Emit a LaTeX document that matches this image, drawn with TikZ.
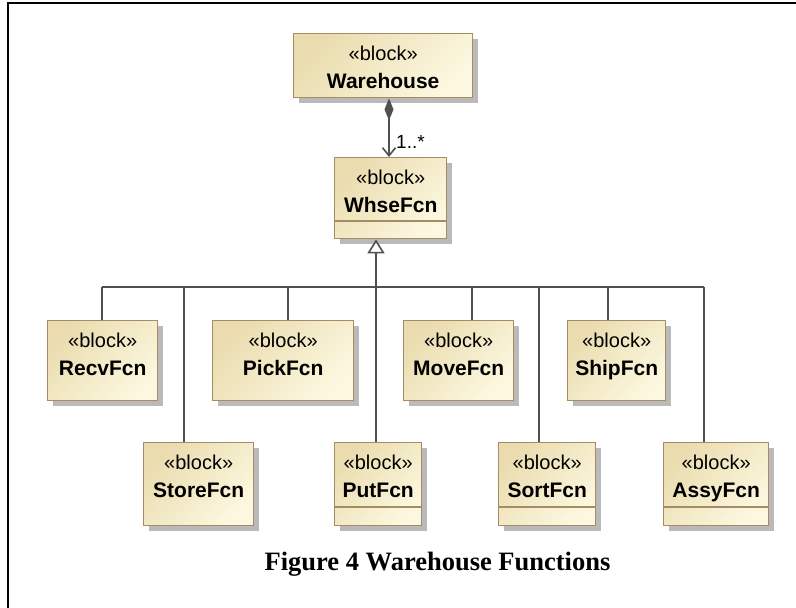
\documentclass[tikz,border=0pt]{standalone}
\usepackage{fontspec}
\setmainfont{Liberation Sans}
\newfontfamily\capfont{Liberation Serif}
\usetikzlibrary{arrows.meta,shadows,calc}
\definecolor{boxtop}{RGB}{234,220,175}
\definecolor{boxbot}{RGB}{252,248,224}
\definecolor{boxline}{RGB}{165,140,100}
\definecolor{connc}{RGB}{80,80,80}
\tikzset{
  blockbox/.style={rectangle, draw=boxline, line width=1.4pt, top color=boxtop, bottom color=boxbot, shading angle=45,
    drop shadow={shadow xshift=5pt, shadow yshift=-5pt, fill=black!27, opacity=1}, inner sep=0pt},
  stereo/.style={anchor=base, inner sep=0pt, font=\fontsize{20}{22}\selectfont},
  bname/.style={anchor=base, inner sep=0pt, font=\fontsize{21}{24}\selectfont\bfseries},
  conn/.style={draw=connc, line width=1.6pt},
  compart/.style={draw=boxline, line width=1.4pt}
}
\newcommand{\mkblock}[6]{%
  \node[blockbox, minimum width={#4-#2}, minimum height={#5-#3}, anchor=north west] (#1) at (#2,-#3) {};
  \node[stereo] (#1-st) at ($(#1.north)+(0,-27)$) {«block»};
  \node[bname] (#1-nm) at ($(#1.north)+(0,-55)$) {#6};
}
\begin{document}
\begin{tikzpicture}[x=1pt,y=1pt]
\useasboundingbox (0,0) rectangle (796,-608);
\fill[white] (0,0) rectangle (796,-608);
% frame
\draw[line width=2pt] (796,-3) -- (8,-3) -- (8,-608);

% blocks
\mkblock{wh}{293}{33}{472}{97}{Warehouse}
\mkblock{wf}{334}{157}{446}{238}{WhseFcn}
\mkblock{recv}{47}{320}{157}{400}{RecvFcn}
\mkblock{pick}{212}{320}{353}{400}{PickFcn}
\mkblock{move}{403}{320}{513}{400}{MoveFcn}
\mkblock{ship}{567}{320}{665}{400}{ShipFcn}
\mkblock{store}{143}{442}{253}{525}{StoreFcn}
\mkblock{put}{334}{442}{421}{525}{PutFcn}
\mkblock{sort}{498}{442}{595}{525}{SortFcn}
\mkblock{assy}{663}{442}{768}{525}{AssyFcn}

% compartments
\draw[compart] ($(wf.north west)+(0,-64)$) -- ($(wf.north east)+(0,-64)$);
\draw[compart] ($(put.north west)+(0,-65)$) -- ($(put.north east)+(0,-65)$);
\draw[compart] ($(sort.north west)+(0,-65)$) -- ($(sort.north east)+(0,-65)$);
\draw[compart] ($(assy.north west)+(0,-65)$) -- ($(assy.north east)+(0,-65)$);

% composition
\coordinate (comp) at (389,0);
\draw[conn, {Diamond[length=22pt,width=9pt,fill=connc]}-{Straight Barb[length=8pt,width=13pt]}] (comp |- wh.south) -- (comp |- wf.north);
\node[anchor=base west, inner sep=0pt, font=\fontsize{19}{20}\selectfont] (mult) at (396,-148) {1..*};

% generalization bus
\coordinate (bus-l) at (102,-287);
\coordinate (bus-r) at (704,-287);
\coordinate (gen) at (376,-287);
\coordinate (c-recv) at (102,-287);
\coordinate (c-store) at (184,-287);
\coordinate (c-pick) at (288,-287);
\coordinate (c-put) at (376,-287);
\coordinate (c-move) at (472,-287);
\coordinate (c-sort) at (539,-287);
\coordinate (c-ship) at (608,-287);
\coordinate (c-assy) at (704,-287);
\draw[conn] (bus-l) -- (bus-r);
\draw[conn] (c-recv) -- (c-recv |- recv.north);
\draw[conn] (c-store) -- (c-store |- store.north);
\draw[conn] (c-pick) -- (c-pick |- pick.north);
\draw[conn] (c-put) -- (c-put |- put.north);
\draw[conn] (c-move) -- (c-move |- move.north);
\draw[conn] (c-sort) -- (c-sort |- sort.north);
\draw[conn] (c-ship) -- (c-ship |- ship.north);
\draw[conn] (c-assy) -- (c-assy |- assy.north);
\draw[conn, -{Triangle[open,length=14pt,width=17pt,fill=white]}] (gen) -- (gen |- wf.south);

% caption
\node[anchor=base, inner sep=0pt, font=\capfont\bfseries\fontsize{26.5}{30}\selectfont] (caption) at (437.5,-570) {Figure 4 Warehouse Functions};
\end{tikzpicture}
\end{document}
